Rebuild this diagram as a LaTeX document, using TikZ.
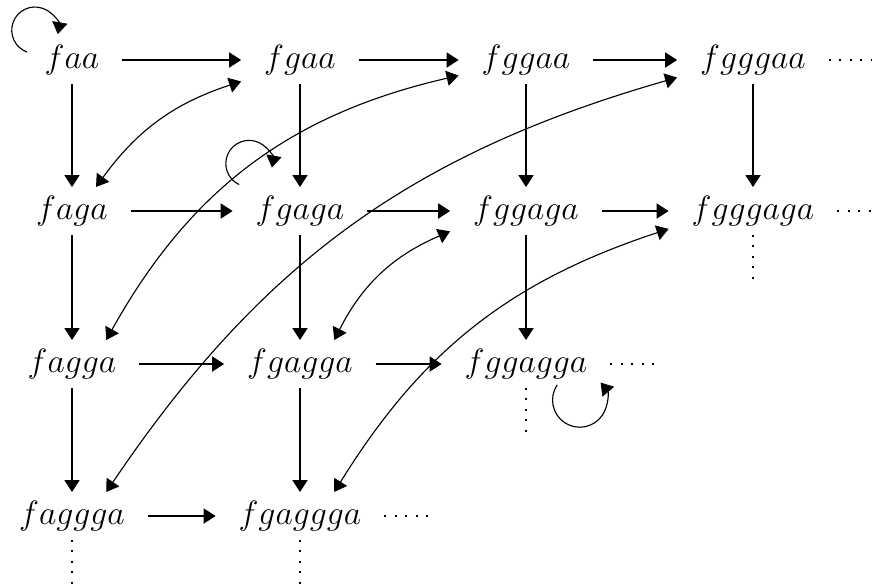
\documentclass[tikz,border=0pt]{standalone}
\usepackage{tikz}
\usetikzlibrary{arrows.meta}
\tikzset{
    word/.style={font=\large, inner xsep=8pt, inner ysep=3pt},
    arr/.style={-{Triangle[length=1.5mm,width=1.9mm]}},
    biarr/.style={{Triangle[length=1.5mm,width=1.9mm]}-{Triangle[length=1.5mm,width=1.9mm]}},
    dotline/.style={dash pattern=on 0.7pt off 3pt}
}

\begin{document}
\begin{tikzpicture}
        \useasboundingbox (0,0) rectangle (10.975,-7.325);
        % words
        \node[word] (faa) at (0.9,-0.75) {$faa$};
        \node[word] (fgaa) at (3.75,-0.75) {$fgaa$};
        \node[word] (fggaa) at (6.575,-0.75) {$fggaa$};
        \node[word] (fgggaa) at (9.4125,-0.75) {$fgggaa$};
        \node[word] (faga) at (0.9,-2.6375) {$faga$};
        \node[word] (fgaga) at (3.75,-2.6375) {$fgaga$};
        \node[word] (fggaga) at (6.575,-2.6375) {$fggaga$};
        \node[word] (fgggaga) at (9.4125,-2.6375) {$fgggaga$};
        \node[word] (fagga) at (0.9,-4.55) {$fagga$};
        \node[word] (fgagga) at (3.75,-4.55) {$fgagga$};
        \node[word] (fggagga) at (6.575,-4.55) {$fggagga$};
        \node[word] (faggga) at (0.9,-6.45) {$faggga$};
        \node[word] (fgaggga) at (3.75,-6.45) {$fgaggga$};
        % arrows to the right
        \draw[arr] (faa) -- (fgaa);
        \draw[arr] (fgaa) -- (fggaa);
        \draw[arr] (fggaa) -- (fgggaa);
        \draw[arr] (faga) -- (fgaga);
        \draw[arr] (fgaga) -- (fggaga);
        \draw[arr] (fggaga) -- (fgggaga);
        \draw[arr] (fagga) -- (fgagga);
        \draw[arr] (fgagga) -- (fggagga);
        \draw[arr] (faggga) -- (fgaggga);
        % arrows down
        \draw[arr] (faa) -- (faga);
        \draw[arr] (fgaa) -- (fgaga);
        \draw[arr] (fggaa) -- (fggaga);
        \draw[arr] (fgggaa) -- (fgggaga);
        \draw[arr] (faga) -- (fagga);
        \draw[arr] (fgaga) -- (fgagga);
        \draw[arr] (fggaga) -- (fggagga);
        \draw[arr] (fagga) -- (faggga);
        \draw[arr] (fgagga) -- (fgaggga);
        % both ways
        \draw[biarr] (faga.45) to[bend left=18] (fgaa.200);
        \draw[biarr] (fagga.35) to[bend left=24] (fggaa.193);
        \draw[biarr] (faggga.35) to[bend left=20] (fgggaa.193);
        \draw[biarr] (fgagga.35) to[bend left=20] (fggaga.195);
        \draw[biarr] (fgaggga.35) to[bend left=20] (fgggaga.192);
        % loops
        \draw[arr] (faa) ++(-0.5625,0.1) arc[start angle=250, end angle=-10, radius=0.29];
        \draw[arr] (fgaga) ++(-0.76,0.33) arc[start angle=245, end angle=-10, radius=0.29];
        \draw[arr] (fggagga) ++(0.39,-0.26) arc[start angle=146, end angle=400, radius=0.34];
        % and so on
        \foreach \w in {fgggaa,fgggaga,fggagga,fgaggga}
        {
            \draw[dotline] (\w.east) -- ++(0.6,0);
        }
        \foreach \w in {fgggaga,fggagga,faggga,fgaggga}
        {
            \draw[dotline] (\w.south) -- ++(0,-0.55);
        }
    \end{tikzpicture}
\end{document}
